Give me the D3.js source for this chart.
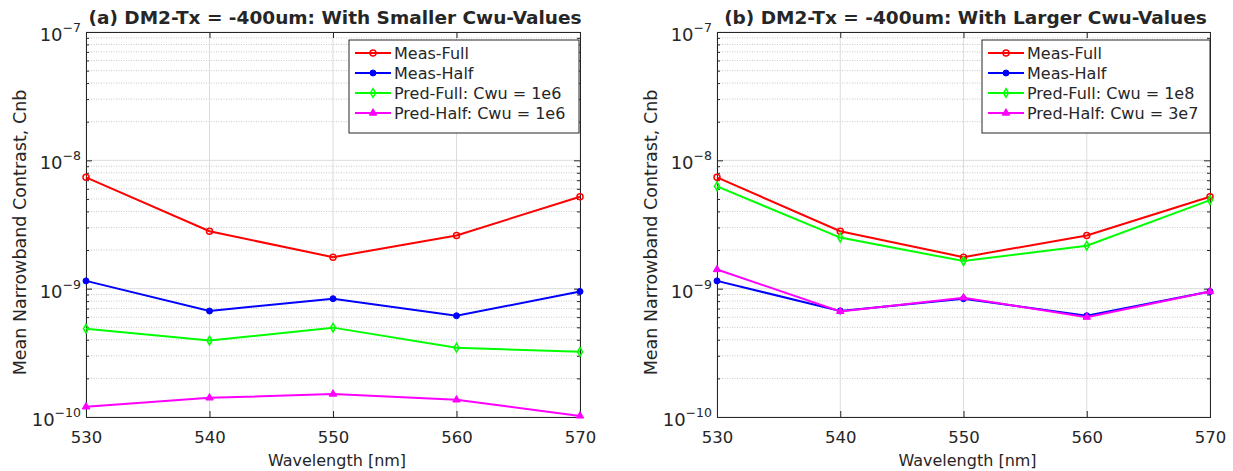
<!DOCTYPE html>
<html><head><meta charset="utf-8">
<script src="https://cdn.jsdelivr.net/npm/d3@7"></script>
<style>body{margin:0;background:#fff;} text{font-family:"DejaVu Sans",sans-serif;fill:#262626;}</style>
</head><body>
<svg id="c" width="1233" height="471"></svg>
<script>
const wavelengths = [530, 540, 550, 560, 570];
const xTicks = [530, 540, 550, 560, 570];
const yTickExps = [-7, -8, -9, -10];
const measFull = [7.37e-9, 2.8e-9, 1.76e-9, 2.6e-9, 5.2e-9];
const measHalf = [1.15e-9, 6.7e-10, 8.35e-10, 6.15e-10, 9.5e-10];
const predFullA = [4.88e-10, 3.94e-10, 4.97e-10, 3.47e-10, 3.22e-10];
const predHalfA = [1.2e-10, 1.41e-10, 1.51e-10, 1.36e-10, 1.02e-10];
const predFullB = [6.27e-9, 2.5e-9, 1.64e-9, 2.16e-9, 4.9e-9];
const predHalfB = [1.41e-9, 6.65e-10, 8.5e-10, 6.0e-10, 9.5e-10];
const titles = ["(a) DM2-Tx = -400um: With Smaller Cwu-Values", "(b) DM2-Tx = -400um: With Larger Cwu-Values"];
const legendA = ["Meas-Full", "Meas-Half", "Pred-Full: Cwu = 1e6", "Pred-Half: Cwu = 1e6"];
const legendB = ["Meas-Full", "Meas-Half", "Pred-Full: Cwu = 1e8", "Pred-Half: Cwu = 3e7"];
const colors = ["#ff0000", "#0000ff", "#00ff00", "#ff00ff"];
const markers = ["circle", "dot", "diamond", "triangle"];

const svg = d3.select("#c");

function marker(g, type, x, y, color) {
  if (type === "circle") {
    g.append("circle").attr("cx", x).attr("cy", y).attr("r", 3).attr("fill", "none").attr("stroke", color).attr("stroke-width", 1.5);
  } else if (type === "dot") {
    g.append("circle").attr("cx", x).attr("cy", y).attr("r", 3).attr("fill", color).attr("stroke", color).attr("stroke-width", 1);
  } else if (type === "diamond") {
    g.append("path").attr("d", d3.symbol(d3.symbolDiamond, 22)()).attr("transform", `translate(${x},${y})`).attr("fill", "none").attr("stroke", color).attr("stroke-width", 1.5);
  } else {
    g.append("path").attr("d", d3.symbol(d3.symbolTriangle, 24)()).attr("transform", `translate(${x},${y})`).attr("fill", color).attr("stroke", color).attr("stroke-width", 1);
  }
}

function panel(left, right, title, seriesList, legendLabels, legendX, legendW) {
  const top = 32, bottom = 417;
  const x = d3.scaleLinear().domain([530, 570]).range([left, right]);
  const y = d3.scaleLog().domain([1e-10, 1e-7]).range([bottom, top]);
  const g = svg.append("g");
  const minors = [];
  for (let e = -10; e < -7; e++) for (let m = 2; m <= 9; m++) minors.push(m * Math.pow(10, e));
  g.selectAll(null).data(minors).enter().append("line")
    .attr("x1", left).attr("x2", right).attr("y1", d => y(d)).attr("y2", d => y(d))
    .attr("stroke", "#c8c8c8").attr("stroke-width", 1).attr("stroke-dasharray", "1,1.5");
  g.selectAll(null).data(yTickExps).enter().append("line")
    .attr("x1", left).attr("x2", right).attr("y1", d => y(Math.pow(10, d))).attr("y2", d => y(Math.pow(10, d)))
    .attr("stroke", "#dcdcdc").attr("stroke-width", 1);
  g.selectAll(null).data(xTicks).enter().append("line")
    .attr("x1", d => x(d)).attr("x2", d => x(d)).attr("y1", top).attr("y2", bottom)
    .attr("stroke", "#dcdcdc").attr("stroke-width", 1);
  const ax = g.append("g");
  ax.append("g").attr("transform", `translate(0,${bottom})`).call(d3.axisBottom(x).tickValues(xTicks).tickSize(-6).tickPadding(14).tickFormat(d3.format("d")));
  ax.append("g").attr("transform", `translate(0,${top})`).call(d3.axisTop(x).tickValues(xTicks).tickSize(-6).tickFormat(""));
  const yTickVals = yTickExps.map(e => Math.pow(10, e));
  ax.append("g").attr("transform", `translate(${left},0)`).call(d3.axisLeft(y).tickValues(yTickVals).tickSize(-6).tickFormat(""));
  ax.append("g").attr("transform", `translate(${left},0)`).call(d3.axisLeft(y).tickValues(minors).tickSize(-3).tickFormat(""));
  ax.append("g").attr("transform", `translate(${right},0)`).call(d3.axisRight(y).tickValues(yTickVals).tickSize(-6).tickFormat(""));
  ax.append("g").attr("transform", `translate(${right},0)`).call(d3.axisRight(y).tickValues(minors).tickSize(-3).tickFormat(""));
  ax.selectAll(".domain").attr("stroke", "#262626").attr("stroke-width", 1);
  ax.selectAll(".tick line").attr("stroke", "#262626");
  ax.selectAll(".tick text").attr("font-size", 16.5).attr("fill", "#262626").style("font-family", "DejaVu Sans, sans-serif");
  yTickExps.forEach(e => {
    const t = g.append("text").attr("x", left - 5).attr("y", y(Math.pow(10, e)) + 9).attr("text-anchor", "end").attr("font-size", 18);
    t.append("tspan").text("10");
    t.append("tspan").attr("dy", -9).attr("font-size", 12.5).text("\u2212" + Math.abs(e));
  });
  const line = d3.line().x((d, i) => x(wavelengths[i])).y(d => y(d));
  seriesList.forEach((s, k) => {
    g.append("path").datum(s).attr("d", line).attr("fill", "none").attr("stroke", colors[k]).attr("stroke-width", 2);
    s.forEach((v, i) => marker(g, markers[k], x(wavelengths[i]), y(v), colors[k]));
  });
  g.append("text").attr("x", (left + right) / 2 + 2).attr("y", 24).attr("text-anchor", "middle")
    .attr("font-size", 18.5).attr("font-weight", "bold").attr("fill", "#000").text(title);
  g.append("text").attr("x", (left + right) / 2 + 4).attr("y", 466).attr("text-anchor", "middle").attr("font-size", 16).text("Wavelength [nm]");
  g.append("text").attr("transform", `translate(${left - 60},${(top + bottom) / 2 + 8}) rotate(-90)`).attr("text-anchor", "middle").attr("font-size", 17.5).text("Mean Narrowband Contrast, Cnb");
  const lg = g.append("g");
  lg.append("rect").attr("x", legendX).attr("y", 40).attr("width", legendW).attr("height", 93).attr("fill", "#fff").attr("stroke", "#262626").attr("stroke-width", 1);
  legendLabels.forEach((lab, k) => {
    const yy = 53 + k * 20;
    lg.append("line").attr("x1", legendX + 6).attr("x2", legendX + 42).attr("y1", yy).attr("y2", yy).attr("stroke", colors[k]).attr("stroke-width", 2);
    marker(lg, markers[k], legendX + 24, yy, colors[k]);
    lg.append("text").attr("x", legendX + 45).attr("y", yy + 6).attr("font-size", 16).text(lab);
  });
}

panel(86, 580, titles[0], [measFull, measHalf, predFullA, predHalfA], legendA, 349, 230);
panel(717, 1210, titles[1], [measFull, measHalf, predFullB, predHalfB], legendB, 982, 228);
</script>
</body></html>
